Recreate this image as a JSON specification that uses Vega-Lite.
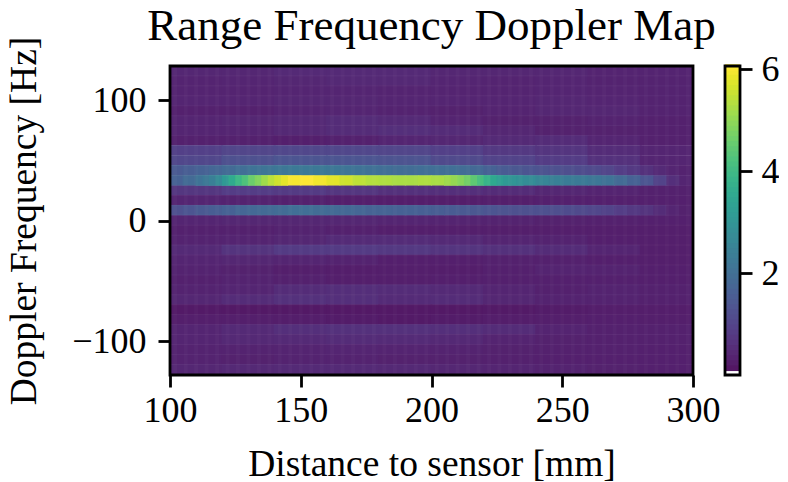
{"$schema":"https://vega.github.io/schema/vega-lite/v6.json","padding":{"left":5,"top":4,"right":0,"bottom":0},"background":"white","bounds":"flush","spacing":32,"config":{"view":{"stroke":null},"font":"Liberation Serif","axis":{"labelFont":"Liberation Serif","titleFont":"Liberation Serif","labelFontSize":36,"titleFontSize":37.5,"labelColor":"black","titleColor":"black","tickColor":"black","tickWidth":2.8,"tickSize":12,"domain":false,"grid":false,"titleFontWeight":"normal","labelPadding":12},"title":{"font":"Liberation Serif","fontSize":45,"fontWeight":"normal","color":"black"}},"hconcat":[{"width":523,"height":309,"title":{"text":"Range Frequency Doppler Map","anchor":"middle","offset":-13},"layer":[{"data":{"name":"coarse","values":[
{"x":110,"y":124.4,"v":0.45},{"x":130,"y":124.4,"v":0.45},{"x":150,"y":124.4,"v":0.5},{"x":170,"y":124.4,"v":0.5},{"x":190,"y":124.4,"v":0.5},{"x":210,"y":124.4,"v":0.45},{"x":230,"y":124.4,"v":0.45},{"x":250,"y":124.4,"v":0.45},{"x":270,"y":124.4,"v":0.4},{"x":290,"y":124.4,"v":0.4},
{"x":110,"y":116.1,"v":0.4},{"x":130,"y":116.1,"v":0.42},{"x":150,"y":116.1,"v":0.45},{"x":170,"y":116.1,"v":0.48},{"x":190,"y":116.1,"v":0.48},{"x":210,"y":116.1,"v":0.42},{"x":230,"y":116.1,"v":0.4},{"x":250,"y":116.1,"v":0.42},{"x":270,"y":116.1,"v":0.38},{"x":290,"y":116.1,"v":0.38},
{"x":110,"y":107.9,"v":0.4},{"x":130,"y":107.9,"v":0.4},{"x":150,"y":107.9,"v":0.42},{"x":170,"y":107.9,"v":0.42},{"x":190,"y":107.9,"v":0.4},{"x":210,"y":107.9,"v":0.4},{"x":230,"y":107.9,"v":0.4},{"x":250,"y":107.9,"v":0.42},{"x":270,"y":107.9,"v":0.4},{"x":290,"y":107.9,"v":0.38},
{"x":110,"y":99.6,"v":0.42},{"x":130,"y":99.6,"v":0.42},{"x":150,"y":99.6,"v":0.44},{"x":170,"y":99.6,"v":0.44},{"x":190,"y":99.6,"v":0.42},{"x":210,"y":99.6,"v":0.42},{"x":230,"y":99.6,"v":0.42},{"x":250,"y":99.6,"v":0.44},{"x":270,"y":99.6,"v":0.42},{"x":290,"y":99.6,"v":0.38},
{"x":110,"y":91.3,"v":0.35},{"x":130,"y":91.3,"v":0.35},{"x":150,"y":91.3,"v":0.4},{"x":170,"y":91.3,"v":0.42},{"x":190,"y":91.3,"v":0.38},{"x":210,"y":91.3,"v":0.36},{"x":230,"y":91.3,"v":0.4},{"x":250,"y":91.3,"v":0.45},{"x":270,"y":91.3,"v":0.45},{"x":290,"y":91.3,"v":0.38},
{"x":110,"y":83.1,"v":0.42},{"x":130,"y":83.1,"v":0.45},{"x":150,"y":83.1,"v":0.48},{"x":170,"y":83.1,"v":0.55},{"x":190,"y":83.1,"v":0.5},{"x":210,"y":83.1,"v":0.4},{"x":230,"y":83.1,"v":0.36},{"x":250,"y":83.1,"v":0.36},{"x":270,"y":83.1,"v":0.38},{"x":290,"y":83.1,"v":0.35},
{"x":110,"y":74.8,"v":0.42},{"x":130,"y":74.8,"v":0.42},{"x":150,"y":74.8,"v":0.48},{"x":170,"y":74.8,"v":0.55},{"x":190,"y":74.8,"v":0.6},{"x":210,"y":74.8,"v":0.55},{"x":230,"y":74.8,"v":0.45},{"x":250,"y":74.8,"v":0.36},{"x":270,"y":74.8,"v":0.36},{"x":290,"y":74.8,"v":0.35},
{"x":110,"y":66.6,"v":0.35},{"x":130,"y":66.6,"v":0.35},{"x":150,"y":66.6,"v":0.32},{"x":170,"y":66.6,"v":0.35},{"x":190,"y":66.6,"v":0.42},{"x":210,"y":66.6,"v":0.45},{"x":230,"y":66.6,"v":0.5},{"x":250,"y":66.6,"v":0.55},{"x":270,"y":66.6,"v":0.42},{"x":290,"y":66.6,"v":0.35},
{"x":110,"y":58.3,"v":0.95},{"x":130,"y":58.3,"v":1.05},{"x":150,"y":58.3,"v":1.1},{"x":170,"y":58.3,"v":1.1},{"x":190,"y":58.3,"v":1.05},{"x":210,"y":58.3,"v":0.95},{"x":230,"y":58.3,"v":0.8},{"x":250,"y":58.3,"v":0.72},{"x":270,"y":58.3,"v":0.55},{"x":290,"y":58.3,"v":0.42},
{"x":110,"y":50,"v":1.1},{"x":130,"y":50,"v":1.3},{"x":150,"y":50,"v":1.4},{"x":170,"y":50,"v":1.4},{"x":190,"y":50,"v":1.35},{"x":210,"y":50,"v":1.15},{"x":230,"y":50,"v":1.0},{"x":250,"y":50,"v":0.88},{"x":270,"y":50,"v":0.65},{"x":290,"y":50,"v":0.42},
{"x":110,"y":41.8,"v":1.7},{"x":130,"y":41.8,"v":2.0},{"x":150,"y":41.8,"v":2.2},{"x":170,"y":41.8,"v":2.1},{"x":190,"y":41.8,"v":2.0},{"x":210,"y":41.8,"v":1.9},{"x":230,"y":41.8,"v":1.5},{"x":250,"y":41.8,"v":1.3},{"x":270,"y":41.8,"v":1.0},{"x":290,"y":41.8,"v":0.45},
{"x":110,"y":33.5,"v":2},{"x":130,"y":33.5,"v":4},{"x":150,"y":33.5,"v":6},{"x":170,"y":33.5,"v":5.5},{"x":190,"y":33.5,"v":5.2},{"x":210,"y":33.5,"v":5},{"x":230,"y":33.5,"v":3},{"x":250,"y":33.5,"v":2.4},{"x":270,"y":33.5,"v":2},{"x":290,"y":33.5,"v":0.7},
{"x":110,"y":8.8,"v":1.4},{"x":130,"y":8.8,"v":1.8},{"x":150,"y":8.8,"v":2},{"x":170,"y":8.8,"v":1.8},{"x":190,"y":8.8,"v":1.7},{"x":210,"y":8.8,"v":1.5},{"x":230,"y":8.8,"v":1.3},{"x":250,"y":8.8,"v":1.2},{"x":270,"y":8.8,"v":0.9},{"x":290,"y":8.8,"v":0.45},
{"x":110,"y":25.3,"v":0.75},{"x":130,"y":25.3,"v":0.9},{"x":150,"y":25.3,"v":0.85},{"x":170,"y":25.3,"v":0.75},{"x":190,"y":25.3,"v":0.65},{"x":210,"y":25.3,"v":0.6},{"x":230,"y":25.3,"v":0.55},{"x":250,"y":25.3,"v":0.45},{"x":270,"y":25.3,"v":0.4},{"x":290,"y":25.3,"v":0.35},
{"x":110,"y":17,"v":0.42},{"x":130,"y":17,"v":0.38},{"x":150,"y":17,"v":0.35},{"x":170,"y":17,"v":0.3},{"x":190,"y":17,"v":0.28},{"x":210,"y":17,"v":0.28},{"x":230,"y":17,"v":0.3},{"x":250,"y":17,"v":0.33},{"x":270,"y":17,"v":0.33},{"x":290,"y":17,"v":0.33},
{"x":110,"y":0.5,"v":0.42},{"x":130,"y":0.5,"v":0.45},{"x":150,"y":0.5,"v":0.45},{"x":170,"y":0.5,"v":0.45},{"x":190,"y":0.5,"v":0.42},{"x":210,"y":0.5,"v":0.4},{"x":230,"y":0.5,"v":0.38},{"x":250,"y":0.5,"v":0.36},{"x":270,"y":0.5,"v":0.35},{"x":290,"y":0.5,"v":0.33},
{"x":110,"y":-7.7,"v":0.35},{"x":130,"y":-7.7,"v":0.35},{"x":150,"y":-7.7,"v":0.38},{"x":170,"y":-7.7,"v":0.35},{"x":190,"y":-7.7,"v":0.3},{"x":210,"y":-7.7,"v":0.3},{"x":230,"y":-7.7,"v":0.3},{"x":250,"y":-7.7,"v":0.3},{"x":270,"y":-7.7,"v":0.3},{"x":290,"y":-7.7,"v":0.3},
{"x":110,"y":-16,"v":0.38},{"x":130,"y":-16,"v":0.4},{"x":150,"y":-16,"v":0.45},{"x":170,"y":-16,"v":0.52},{"x":190,"y":-16,"v":0.55},{"x":210,"y":-16,"v":0.5},{"x":230,"y":-16,"v":0.42},{"x":250,"y":-16,"v":0.38},{"x":270,"y":-16,"v":0.32},{"x":290,"y":-16,"v":0.3},
{"x":110,"y":-24.2,"v":0.5},{"x":130,"y":-24.2,"v":0.7},{"x":150,"y":-24.2,"v":0.85},{"x":170,"y":-24.2,"v":0.85},{"x":190,"y":-24.2,"v":0.8},{"x":210,"y":-24.2,"v":0.72},{"x":230,"y":-24.2,"v":0.65},{"x":250,"y":-24.2,"v":0.55},{"x":270,"y":-24.2,"v":0.42},{"x":290,"y":-24.2,"v":0.3},
{"x":110,"y":-32.5,"v":0.42},{"x":130,"y":-32.5,"v":0.45},{"x":150,"y":-32.5,"v":0.42},{"x":170,"y":-32.5,"v":0.38},{"x":190,"y":-32.5,"v":0.32},{"x":210,"y":-32.5,"v":0.32},{"x":230,"y":-32.5,"v":0.35},{"x":250,"y":-32.5,"v":0.35},{"x":270,"y":-32.5,"v":0.32},{"x":290,"y":-32.5,"v":0.3},
{"x":110,"y":-40.8,"v":0.38},{"x":130,"y":-40.8,"v":0.36},{"x":150,"y":-40.8,"v":0.3},{"x":170,"y":-40.8,"v":0.28},{"x":190,"y":-40.8,"v":0.3},{"x":210,"y":-40.8,"v":0.28},{"x":230,"y":-40.8,"v":0.34},{"x":250,"y":-40.8,"v":0.4},{"x":270,"y":-40.8,"v":0.38},{"x":290,"y":-40.8,"v":0.32},
{"x":110,"y":-49,"v":0.35},{"x":130,"y":-49,"v":0.38},{"x":150,"y":-49,"v":0.35},{"x":170,"y":-49,"v":0.3},{"x":190,"y":-49,"v":0.3},{"x":210,"y":-49,"v":0.32},{"x":230,"y":-49,"v":0.34},{"x":250,"y":-49,"v":0.34},{"x":270,"y":-49,"v":0.34},{"x":290,"y":-49,"v":0.32},
{"x":110,"y":-57.3,"v":0.38},{"x":130,"y":-57.3,"v":0.42},{"x":150,"y":-57.3,"v":0.55},{"x":170,"y":-57.3,"v":0.58},{"x":190,"y":-57.3,"v":0.55},{"x":210,"y":-57.3,"v":0.5},{"x":230,"y":-57.3,"v":0.42},{"x":250,"y":-57.3,"v":0.35},{"x":270,"y":-57.3,"v":0.38},{"x":290,"y":-57.3,"v":0.35},
{"x":110,"y":-65.5,"v":0.45},{"x":130,"y":-65.5,"v":0.55},{"x":150,"y":-65.5,"v":0.65},{"x":170,"y":-65.5,"v":0.6},{"x":190,"y":-65.5,"v":0.52},{"x":210,"y":-65.5,"v":0.55},{"x":230,"y":-65.5,"v":0.45},{"x":250,"y":-65.5,"v":0.38},{"x":270,"y":-65.5,"v":0.38},{"x":290,"y":-65.5,"v":0.35},
{"x":110,"y":-73.8,"v":0.22},{"x":130,"y":-73.8,"v":0.2},{"x":150,"y":-73.8,"v":0.2},{"x":170,"y":-73.8,"v":0.2},{"x":190,"y":-73.8,"v":0.2},{"x":210,"y":-73.8,"v":0.2},{"x":230,"y":-73.8,"v":0.22},{"x":250,"y":-73.8,"v":0.25},{"x":270,"y":-73.8,"v":0.28},{"x":290,"y":-73.8,"v":0.28},
{"x":110,"y":-82,"v":0.3},{"x":130,"y":-82,"v":0.3},{"x":150,"y":-82,"v":0.28},{"x":170,"y":-82,"v":0.25},{"x":190,"y":-82,"v":0.22},{"x":210,"y":-82,"v":0.25},{"x":230,"y":-82,"v":0.28},{"x":250,"y":-82,"v":0.3},{"x":270,"y":-82,"v":0.32},{"x":290,"y":-82,"v":0.3},
{"x":110,"y":-90.3,"v":0.42},{"x":130,"y":-90.3,"v":0.5},{"x":150,"y":-90.3,"v":0.6},{"x":170,"y":-90.3,"v":0.65},{"x":190,"y":-90.3,"v":0.65},{"x":210,"y":-90.3,"v":0.6},{"x":230,"y":-90.3,"v":0.55},{"x":250,"y":-90.3,"v":0.4},{"x":270,"y":-90.3,"v":0.35},{"x":290,"y":-90.3,"v":0.35},
{"x":110,"y":-98.6,"v":0.42},{"x":130,"y":-98.6,"v":0.48},{"x":150,"y":-98.6,"v":0.5},{"x":170,"y":-98.6,"v":0.55},{"x":190,"y":-98.6,"v":0.52},{"x":210,"y":-98.6,"v":0.48},{"x":230,"y":-98.6,"v":0.4},{"x":250,"y":-98.6,"v":0.36},{"x":270,"y":-98.6,"v":0.35},{"x":290,"y":-98.6,"v":0.35},
{"x":110,"y":-106.8,"v":0.38},{"x":130,"y":-106.8,"v":0.38},{"x":150,"y":-106.8,"v":0.4},{"x":170,"y":-106.8,"v":0.42},{"x":190,"y":-106.8,"v":0.4},{"x":210,"y":-106.8,"v":0.38},{"x":230,"y":-106.8,"v":0.36},{"x":250,"y":-106.8,"v":0.35},{"x":270,"y":-106.8,"v":0.35},{"x":290,"y":-106.8,"v":0.33},
{"x":110,"y":-115,"v":0.38},{"x":130,"y":-115,"v":0.36},{"x":150,"y":-115,"v":0.38},{"x":170,"y":-115,"v":0.38},{"x":190,"y":-115,"v":0.36},{"x":210,"y":-115,"v":0.36},{"x":230,"y":-115,"v":0.35},{"x":250,"y":-115,"v":0.34},{"x":270,"y":-115,"v":0.33},{"x":290,"y":-115,"v":0.33},
{"x":110,"y":-123.3,"v":0.45},{"x":130,"y":-123.3,"v":0.48},{"x":150,"y":-123.3,"v":0.5},{"x":170,"y":-123.3,"v":0.5},{"x":190,"y":-123.3,"v":0.48},{"x":210,"y":-123.3,"v":0.45},{"x":230,"y":-123.3,"v":0.42},{"x":250,"y":-123.3,"v":0.38},{"x":270,"y":-123.3,"v":0.36},{"x":290,"y":-123.3,"v":0.34}
]},"mark":{"type":"rect","width":54,"height":10.6},"encoding":{"x":{"field":"x","type":"quantitative","scale":{"domain":[100,300],"nice":false,"zero":false},"axis":{"values":[100,150,200,250,300],"title":"Distance to sensor [mm]","titlePadding":17,"labelPadding":6,"labelFlush":false}},"y":{"field":"y","type":"quantitative","scale":{"domain":[-128,128.5],"nice":false,"zero":false},"axis":{"values":[-100,0,100],"title":"Doppler Frequency [Hz]","titlePadding":28}},"color":{"field":"v","type":"quantitative","scale":{"scheme":"viridis","domain":[0.1,6.06]},"legend":null}}},
{"data":{"name":"fine","values":[
{"x":102.5,"y":41.8,"v":1.5},{"x":107.5,"y":41.8,"v":1.6},{"x":112.5,"y":41.8,"v":1.7},{"x":117.5,"y":41.8,"v":1.8},{"x":122.5,"y":41.8,"v":1.9},{"x":127.5,"y":41.8,"v":2.0},{"x":132.5,"y":41.8,"v":2.1},{"x":137.5,"y":41.8,"v":2.15},{"x":142.5,"y":41.8,"v":2.2},{"x":147.5,"y":41.8,"v":2.25},{"x":152.5,"y":41.8,"v":2.25},{"x":157.5,"y":41.8,"v":2.25},{"x":162.5,"y":41.8,"v":2.2},{"x":167.5,"y":41.8,"v":2.15},{"x":172.5,"y":41.8,"v":2.1},{"x":177.5,"y":41.8,"v":2.05},{"x":182.5,"y":41.8,"v":2.0},{"x":187.5,"y":41.8,"v":1.95},{"x":192.5,"y":41.8,"v":1.95},{"x":197.5,"y":41.8,"v":2.0},{"x":202.5,"y":41.8,"v":2.0},{"x":207.5,"y":41.8,"v":2.0},{"x":212.5,"y":41.8,"v":1.95},{"x":217.5,"y":41.8,"v":1.85},{"x":222.5,"y":41.8,"v":1.7},{"x":227.5,"y":41.8,"v":1.55},{"x":232.5,"y":41.8,"v":1.45},{"x":237.5,"y":41.8,"v":1.4},{"x":242.5,"y":41.8,"v":1.35},{"x":247.5,"y":41.8,"v":1.3},{"x":252.5,"y":41.8,"v":1.25},{"x":257.5,"y":41.8,"v":1.2},{"x":262.5,"y":41.8,"v":1.15},{"x":267.5,"y":41.8,"v":1.05},{"x":272.5,"y":41.8,"v":0.9},{"x":277.5,"y":41.8,"v":0.8},{"x":282.5,"y":41.8,"v":0.65},{"x":287.5,"y":41.8,"v":0.5},{"x":292.5,"y":41.8,"v":0.42},{"x":297.5,"y":41.8,"v":0.38},
{"x":102.5,"y":33.5,"v":1.7},{"x":107.5,"y":33.5,"v":1.9},{"x":112.5,"y":33.5,"v":2.2},{"x":117.5,"y":33.5,"v":2.6},{"x":122.5,"y":33.5,"v":3.5},{"x":127.5,"y":33.5,"v":4.1},{"x":132.5,"y":33.5,"v":4.7},{"x":137.5,"y":33.5,"v":5.3},{"x":142.5,"y":33.5,"v":5.7},{"x":147.5,"y":33.5,"v":6.0},{"x":152.5,"y":33.5,"v":6.06},{"x":157.5,"y":33.5,"v":5.95},{"x":162.5,"y":33.5,"v":5.8},{"x":167.5,"y":33.5,"v":5.6},{"x":172.5,"y":33.5,"v":5.45},{"x":177.5,"y":33.5,"v":5.35},{"x":182.5,"y":33.5,"v":5.3},{"x":187.5,"y":33.5,"v":5.25},{"x":192.5,"y":33.5,"v":5.25},{"x":197.5,"y":33.5,"v":5.3},{"x":202.5,"y":33.5,"v":5.25},{"x":207.5,"y":33.5,"v":5.1},{"x":212.5,"y":33.5,"v":4.8},{"x":217.5,"y":33.5,"v":4.3},{"x":222.5,"y":33.5,"v":3.7},{"x":227.5,"y":33.5,"v":3.25},{"x":232.5,"y":33.5,"v":3.0},{"x":237.5,"y":33.5,"v":2.8},{"x":242.5,"y":33.5,"v":2.6},{"x":247.5,"y":33.5,"v":2.45},{"x":252.5,"y":33.5,"v":2.35},{"x":257.5,"y":33.5,"v":2.3},{"x":262.5,"y":33.5,"v":2.2},{"x":267.5,"y":33.5,"v":2.1},{"x":272.5,"y":33.5,"v":1.9},{"x":277.5,"y":33.5,"v":1.7},{"x":282.5,"y":33.5,"v":1.4},{"x":287.5,"y":33.5,"v":1.0},{"x":292.5,"y":33.5,"v":0.6},{"x":297.5,"y":33.5,"v":0.42},
{"x":102.5,"y":8.8,"v":1.3},{"x":107.5,"y":8.8,"v":1.4},{"x":112.5,"y":8.8,"v":1.5},{"x":117.5,"y":8.8,"v":1.6},{"x":122.5,"y":8.8,"v":1.7},{"x":127.5,"y":8.8,"v":1.8},{"x":132.5,"y":8.8,"v":1.85},{"x":137.5,"y":8.8,"v":1.9},{"x":142.5,"y":8.8,"v":1.95},{"x":147.5,"y":8.8,"v":2.0},{"x":152.5,"y":8.8,"v":2.0},{"x":157.5,"y":8.8,"v":1.95},{"x":162.5,"y":8.8,"v":1.9},{"x":167.5,"y":8.8,"v":1.85},{"x":172.5,"y":8.8,"v":1.8},{"x":177.5,"y":8.8,"v":1.75},{"x":182.5,"y":8.8,"v":1.75},{"x":187.5,"y":8.8,"v":1.7},{"x":192.5,"y":8.8,"v":1.7},{"x":197.5,"y":8.8,"v":1.65},{"x":202.5,"y":8.8,"v":1.6},{"x":207.5,"y":8.8,"v":1.55},{"x":212.5,"y":8.8,"v":1.5},{"x":217.5,"y":8.8,"v":1.45},{"x":222.5,"y":8.8,"v":1.4},{"x":227.5,"y":8.8,"v":1.35},{"x":232.5,"y":8.8,"v":1.3},{"x":237.5,"y":8.8,"v":1.3},{"x":242.5,"y":8.8,"v":1.3},{"x":247.5,"y":8.8,"v":1.25},{"x":252.5,"y":8.8,"v":1.2},{"x":257.5,"y":8.8,"v":1.15},{"x":262.5,"y":8.8,"v":1.1},{"x":267.5,"y":8.8,"v":1.0},{"x":272.5,"y":8.8,"v":0.9},{"x":277.5,"y":8.8,"v":0.8},{"x":282.5,"y":8.8,"v":0.7},{"x":287.5,"y":8.8,"v":0.55},{"x":292.5,"y":8.8,"v":0.42},{"x":297.5,"y":8.8,"v":0.36}
]},"mark":{"type":"rect","width":14,"height":10.2},"encoding":{"x":{"field":"x","type":"quantitative"},"y":{"field":"y","type":"quantitative"},"color":{"field":"v","type":"quantitative"}}},
{"data":{"values":[{"x":111.25,"y":33.5,"v":2.1},{"x":113.75,"y":33.5,"v":2.25},{"x":116.25,"y":33.5,"v":2.45},{"x":118.75,"y":33.5,"v":2.75},{"x":121.25,"y":33.5,"v":3.15},{"x":123.75,"y":33.5,"v":3.6},{"x":126.25,"y":33.5,"v":3.95},{"x":128.75,"y":33.5,"v":4.25},{"x":131.25,"y":33.5,"v":4.6},{"x":133.75,"y":33.5,"v":4.85},{"x":136.25,"y":33.5,"v":5.15},{"x":138.75,"y":33.5,"v":5.4},{"x":141.25,"y":33.5,"v":5.6},{"x":143.75,"y":33.5,"v":5.8},{"x":206.25,"y":33.5,"v":5.15},{"x":208.75,"y":33.5,"v":5.05},{"x":211.25,"y":33.5,"v":4.9},{"x":213.75,"y":33.5,"v":4.7},{"x":216.25,"y":33.5,"v":4.45},{"x":218.75,"y":33.5,"v":4.15},{"x":221.25,"y":33.5,"v":3.85},{"x":223.75,"y":33.5,"v":3.55},{"x":226.25,"y":33.5,"v":3.3},{"x":228.75,"y":33.5,"v":3.15},{"x":231.25,"y":33.5,"v":3.0},{"x":233.75,"y":33.5,"v":2.9}]},"mark":{"type":"rect","width":7,"height":10.2},"encoding":{"x":{"field":"x","type":"quantitative"},"y":{"field":"y","type":"quantitative"},"color":{"field":"v","type":"quantitative"}}},
{"data":{"values":[{"x":102},{"x":106},{"x":110},{"x":114},{"x":118},{"x":122},{"x":126},{"x":130},{"x":134},{"x":138},{"x":142},{"x":146},{"x":150},{"x":154},{"x":158},{"x":162},{"x":166},{"x":170},{"x":174},{"x":178},{"x":182},{"x":186},{"x":190},{"x":194},{"x":198},{"x":202},{"x":206},{"x":210},{"x":214},{"x":218},{"x":222},{"x":226},{"x":230},{"x":234},{"x":238},{"x":242},{"x":246},{"x":250},{"x":254},{"x":258},{"x":262},{"x":266},{"x":270},{"x":274},{"x":278},{"x":282},{"x":286},{"x":290},{"x":294},{"x":298}]},"mark":{"type":"rule","color":"white","opacity":0.025,"strokeWidth":4},"encoding":{"x":{"field":"x","type":"quantitative"}}},
{"data":{"values":[{"y":120.3},{"y":112},{"y":103.8},{"y":95.5},{"y":87.2},{"y":79},{"y":70.7},{"y":62.4},{"y":54.2},{"y":45.9},{"y":37.6},{"y":29.4},{"y":21.1},{"y":12.9},{"y":4.6},{"y":-3.6},{"y":-11.9},{"y":-20.1},{"y":-28.4},{"y":-36.6},{"y":-44.9},{"y":-53.2},{"y":-61.4},{"y":-69.7},{"y":-77.9},{"y":-86.2},{"y":-94.4},{"y":-102.7},{"y":-110.9},{"y":-119.2}]},"mark":{"type":"rule","color":"white","opacity":0.05,"strokeWidth":1},"encoding":{"y":{"field":"y","type":"quantitative"}}},
{"data":{"values":[{"a":100,"b":300,"c":-128,"d":128.5}]},"mark":{"type":"rect","fill":"white","fillOpacity":0.07,"stroke":"black","strokeWidth":2.8,"clip":false},"encoding":{"x":{"field":"a","type":"quantitative"},"x2":{"field":"b"},"y":{"field":"c","type":"quantitative"},"y2":{"field":"d"}}}
]},
{"width":15,"height":309,"layer":[{"data":{"values":[{"v":0.14},{"v":0.25},{"v":0.35},{"v":0.45},{"v":0.55},{"v":0.65},{"v":0.75},{"v":0.85},{"v":0.95},{"v":1.05},{"v":1.15},{"v":1.25},{"v":1.35},{"v":1.45},{"v":1.55},{"v":1.65},{"v":1.75},{"v":1.85},{"v":1.95},{"v":2.05},{"v":2.15},{"v":2.25},{"v":2.35},{"v":2.45},{"v":2.55},{"v":2.65},{"v":2.75},{"v":2.85},{"v":2.95},{"v":3.05},{"v":3.15},{"v":3.25},{"v":3.35},{"v":3.45},{"v":3.55},{"v":3.65},{"v":3.75},{"v":3.85},{"v":3.95},{"v":4.05},{"v":4.15},{"v":4.25},{"v":4.35},{"v":4.45},{"v":4.55},{"v":4.65},{"v":4.75},{"v":4.85},{"v":4.95},{"v":5.05},{"v":5.15},{"v":5.25},{"v":5.35},{"v":5.45},{"v":5.55},{"v":5.65},{"v":5.75},{"v":5.85},{"v":5.95},{"v":6.03}]},"mark":{"type":"rect","height":6.4},"encoding":{"y":{"field":"v","type":"quantitative","scale":{"domain":[0,6.06],"nice":false,"zero":false},"axis":{"orient":"right","values":[2,4,6],"title":null,"labelPadding":9}},"color":{"field":"v","type":"quantitative","scale":{"scheme":"viridis","domain":[0.1,6.06]},"legend":null}}},
{"data":{"values":[{"c":0,"d":6.06}]},"mark":{"type":"rect","fill":"white","fillOpacity":0.08,"stroke":"black","strokeWidth":2.8,"clip":false},"encoding":{"y":{"field":"c","type":"quantitative"},"y2":{"field":"d"}}}
]}
]}
